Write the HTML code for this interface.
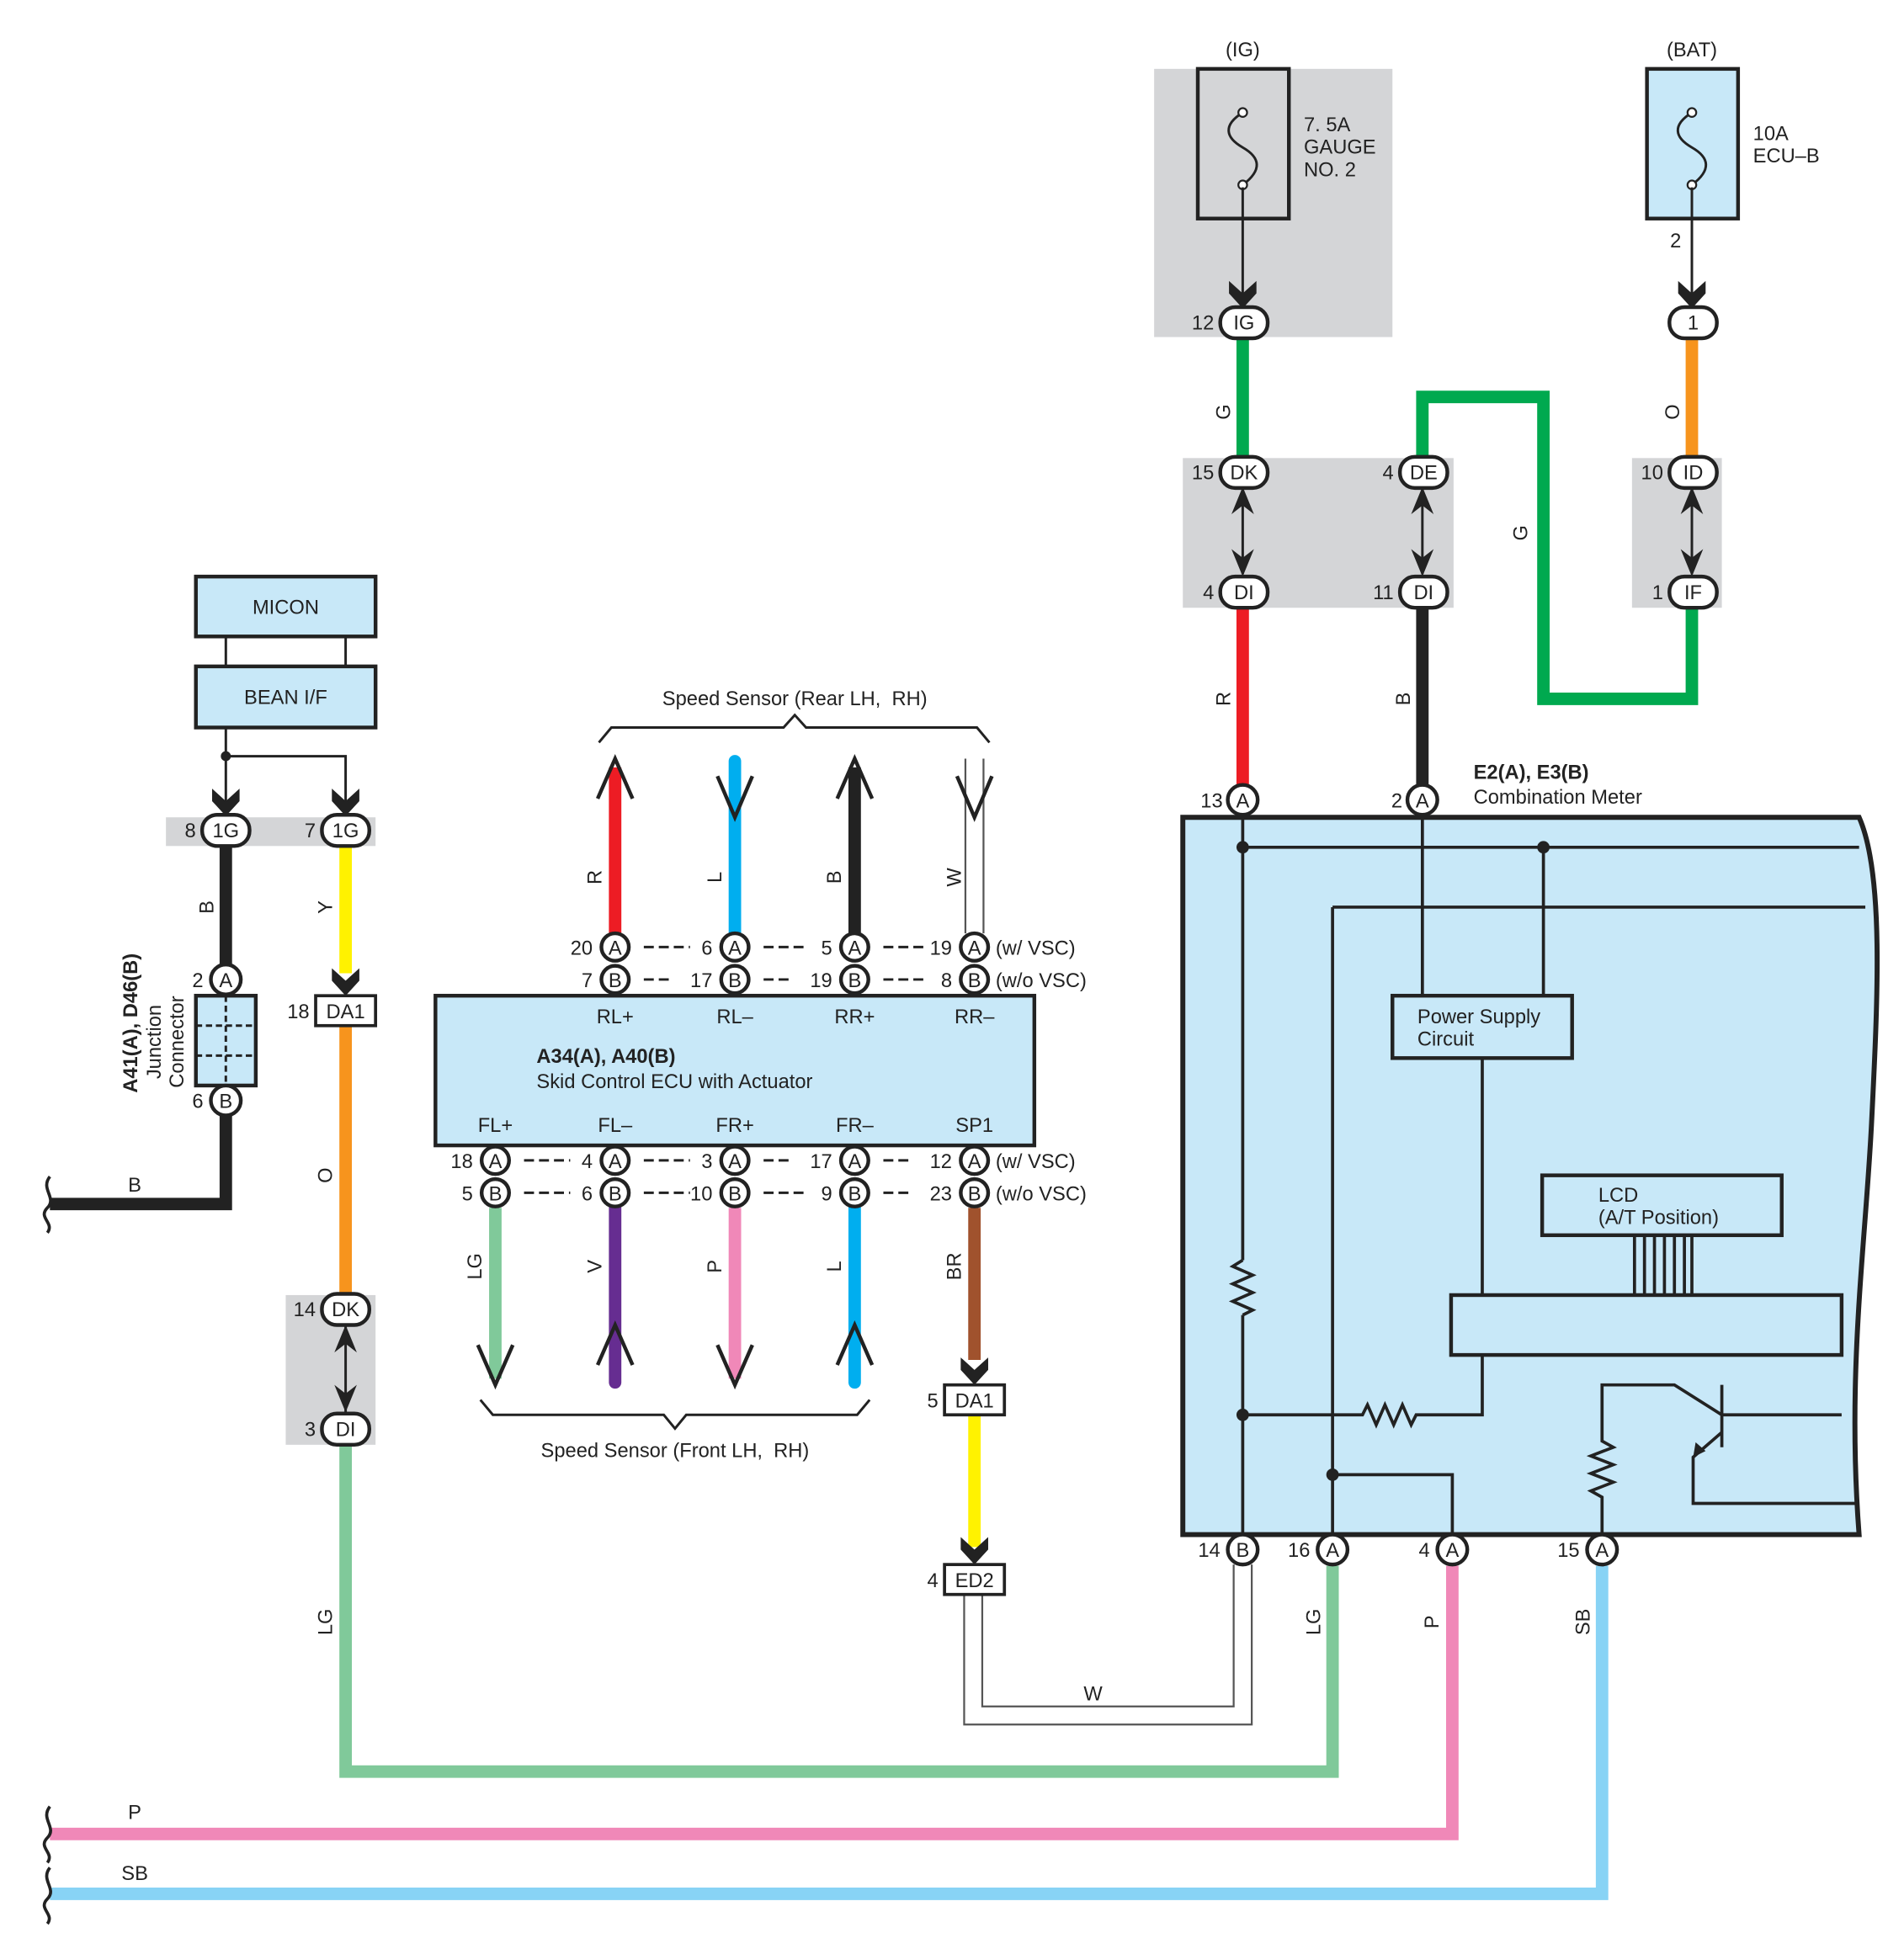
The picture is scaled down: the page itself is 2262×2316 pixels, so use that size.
<!DOCTYPE html>
<html><head><meta charset="utf-8"><style>
html,body{margin:0;padding:0;background:#fff}
svg{display:block}
text{font-family:"Liberation Sans",sans-serif;font-size:16px;fill:#222}
.c{text-anchor:middle}
.e{text-anchor:end}
.b{font-weight:bold}
</style></head><body>
<svg width="2262" height="2316" viewBox="0 0 1526 1562" xmlns="http://www.w3.org/2000/svg">
<defs>
<path id="chv" d="M-11,-22 L0,-12 L11,-22 L11,-12 L0,0 L-11,-12 Z" fill="#222"/>
</defs>
<rect x="925" y="55" width="191" height="215" fill="#d4d5d7"/>
<rect x="948" y="367" width="217" height="120" fill="#d4d5d7"/>
<rect x="1308" y="367" width="72" height="120" fill="#d4d5d7"/>
<rect x="133" y="655" width="168" height="23" fill="#d4d5d7"/>
<rect x="229" y="1038" width="72" height="120" fill="#d4d5d7"/>
<rect x="960" y="55" width="73" height="120" fill="#d4d5d7" stroke="#222" stroke-width="3"/>
<rect x="1320" y="55" width="73" height="120" fill="#c8e8f8" stroke="#222" stroke-width="3"/>
<path d="M996,90 C980,100 982,110 996,118 C1010,126 1012,136 996,148" fill="none" stroke="#222" stroke-width="2"/>
<circle cx="996" cy="90" r="3.5" fill="#fff" stroke="#222" stroke-width="1.5"/><circle cx="996" cy="148" r="3.5" fill="#fff" stroke="#222" stroke-width="1.5"/>
<path d="M1356,90 C1340,100 1342,110 1356,118 C1370,126 1372,136 1356,148" fill="none" stroke="#222" stroke-width="2"/>
<circle cx="1356" cy="90" r="3.5" fill="#fff" stroke="#222" stroke-width="1.5"/><circle cx="1356" cy="148" r="3.5" fill="#fff" stroke="#222" stroke-width="1.5"/>
<text x="996" y="45" class="c">(IG)</text><text x="1356" y="45" class="c">(BAT)</text>
<text x="1045" y="105">7. 5A</text><text x="1045" y="123">GAUGE</text><text x="1045" y="141">NO. 2</text>
<text x="1405" y="112">10A</text><text x="1405" y="130">ECU–B</text>
<line x1="996" y1="150" x2="996" y2="245" stroke="#222" stroke-width="2"/>
<line x1="1356" y1="150" x2="1356" y2="245" stroke="#222" stroke-width="2"/>
<text x="1343" y="198" class="c">2</text>
<use href="#chv" x="996" y="247"/><use href="#chv" x="1356" y="247"/>
<g fill="none" stroke-linejoin="miter">
<path d="M996,270V370" stroke="#00a94f" stroke-width="10"/>
<path d="M1356,270V370" stroke="#f7941d" stroke-width="10"/>
<path d="M1140,367V318H1237V560H1356V487" stroke="#00a94f" stroke-width="10"/>
<path d="M996,487V630" stroke="#ed1c24" stroke-width="10"/>
<path d="M1140,487V630" stroke="#222" stroke-width="10"/>
<path d="M181,678V775" stroke="#222" stroke-width="10"/>
<path d="M277,678V780" stroke="#fff200" stroke-width="10"/>
<path d="M181,894V965H40" stroke="#222" stroke-width="10"/>
<path d="M277,822V1038" stroke="#f7941d" stroke-width="10"/>
<path d="M1068,1255V1420H277V1158" stroke="#80c99a" stroke-width="10"/>
<path d="M1164,1255V1470H40" stroke="#f088b8" stroke-width="10"/>
<path d="M1284,1255V1518H40" stroke="#88d3f5" stroke-width="10"/>
<path d="M996,1254V1375H780V1278" stroke="#555" stroke-width="16"/>
<path d="M996,1254V1375H780V1278" stroke="#fff" stroke-width="13"/>
<path d="M493,748V615" stroke="#ed1c24" stroke-width="10"/>
<path d="M589,748V610" stroke="#00aeef" stroke-width="10" stroke-linecap="round"/>
<path d="M685,748V615" stroke="#222" stroke-width="10"/>
<path d="M781,748V608" stroke="#555" stroke-width="16"/><path d="M781,748V606" stroke="#fff" stroke-width="13"/>
<path d="M397,968V1105" stroke="#80c99a" stroke-width="10"/>
<path d="M493,968V1108" stroke="#662d91" stroke-width="10" stroke-linecap="round"/>
<path d="M589,968V1105" stroke="#f088b8" stroke-width="10"/>
<path d="M685,968V1108" stroke="#00aeef" stroke-width="10" stroke-linecap="round"/>
<path d="M781,968V1090" stroke="#a0522d" stroke-width="10"/>
<path d="M781,1134V1240" stroke="#fff200" stroke-width="10"/>
<g stroke="#222" stroke-width="3">
<path d="M479,640L493,608L507,640"/><path d="M575,622L589,655L603,622"/><path d="M671,640L685,608L699,640"/><path d="M767,622L781,655L795,622"/>
<path d="M383,1078L397,1110L411,1078"/><path d="M479,1094L493,1062L507,1094"/><path d="M575,1078L589,1110L603,1078"/><path d="M671,1094L685,1062L699,1094"/>
</g>
<path d="M480,595L490,583H628L637,573L646,583H783L793,595" stroke="#222" stroke-width="2"/>
<path d="M385,1122L395,1134H532L541,1145L550,1134H687L697,1122" stroke="#222" stroke-width="2"/>
<g stroke="#222" stroke-width="2.5"><path d="M40,943C32,953 46,960 38,968C30,976 44,980 38,988"/>
<path d="M40,1448C32,1458 46,1465 38,1473C30,1481 44,1485 38,1493"/>
<path d="M40,1497C32,1507 46,1514 38,1522C30,1530 44,1534 38,1542"/></g>
</g>
<use href="#chv" x="781" y="1110"/><use href="#chv" x="781" y="1254"/><use href="#chv" x="277" y="798"/>
<text x="876" y="1363" class="c">W</text>
<text x="108" y="955" class="c">B</text><text x="108" y="1458" class="c">P</text><text x="108" y="1507" class="c">SB</text>
<g>
<text transform="translate(986,330) rotate(-90)" class="c">G</text>
<text transform="translate(1346,330) rotate(-90)" class="c">O</text>
<text transform="translate(1224,427) rotate(-90)" class="c">G</text>
<text transform="translate(986,560) rotate(-90)" class="c">R</text>
<text transform="translate(1130,560) rotate(-90)" class="c">B</text>
<text transform="translate(171,727) rotate(-90)" class="c">B</text>
<text transform="translate(266,727) rotate(-90)" class="c">Y</text>
<text transform="translate(266,942) rotate(-90)" class="c">O</text>
<text transform="translate(266,1300) rotate(-90)" class="c">LG</text>
<text transform="translate(1058,1300) rotate(-90)" class="c">LG</text>
<text transform="translate(1153,1300) rotate(-90)" class="c">P</text>
<text transform="translate(1274,1300) rotate(-90)" class="c">SB</text>
<text transform="translate(482,703) rotate(-90)" class="c">R</text>
<text transform="translate(578,703) rotate(-90)" class="c">L</text>
<text transform="translate(674,703) rotate(-90)" class="c">B</text>
<text transform="translate(770,703) rotate(-90)" class="c">W</text>
<text transform="translate(386,1015) rotate(-90)" class="c">LG</text>
<text transform="translate(482,1015) rotate(-90)" class="c">V</text>
<text transform="translate(578,1015) rotate(-90)" class="c">P</text>
<text transform="translate(674,1015) rotate(-90)" class="c">L</text>
<text transform="translate(770,1015) rotate(-90)" class="c">BR</text>
</g>
<text x="637" y="565" class="c">Speed Sensor (Rear LH,&#160; RH)</text>
<text x="541" y="1168" class="c">Speed Sensor (Front LH,&#160; RH)</text>
<g stroke="#222" stroke-width="2">
<line x1="996" y1="392" x2="996" y2="460"/><line x1="1140" y1="392" x2="1140" y2="460"/><line x1="1356" y1="392" x2="1356" y2="460"/><line x1="277" y1="1062" x2="277" y2="1132"/>
</g>
<g fill="#222">
<path d="M987,412L996,390L1005,412L996,405Z"/><path d="M987,440L996,462L1005,440L996,447Z"/>
<path d="M1131,412L1140,390L1149,412L1140,405Z"/><path d="M1131,440L1140,462L1149,440L1140,447Z"/>
<path d="M1347,412L1356,390L1365,412L1356,405Z"/><path d="M1347,440L1356,462L1365,440L1356,447Z"/>
<path d="M268,1084L277,1062L286,1084L277,1077Z"/><path d="M268,1110L277,1132L286,1110L277,1117Z"/>
</g>
<path d="M948,655H1490C1510,700 1505,800 1500,900C1495,1000 1480,1100 1490,1230H948Z" fill="#c8e8f8" stroke="#222" stroke-width="4"/>
<g stroke="#222" stroke-width="2.5" fill="none">
<path d="M996,655V1010M996,1054V1242"/>
<path d="M996,1010l-8,5 16,7 -16,7 16,7 -16,7 16,7 -8,4"/>
<path d="M996,679H1490"/><path d="M1237,679V798"/><path d="M1140,655V798"/>
<path d="M1068,727H1495"/><path d="M1068,727V1242"/>
<path d="M1188,848V1038"/>
<path d="M996,1134H1092l4,-8 7,16 7,-16 7,16 7,-16 7,16 4,-8H1188V1086"/>
<path d="M1068,1182H1164V1242"/>
<path d="M1284,1242V1200l-9,-5 18,-7 -18,-7 18,-7 -18,-7 18,-7 -9,-5V1110H1342L1380,1134M1380,1110V1160M1380,1134H1476M1380,1148L1357,1168V1205H1488"/>
<path d="M1310,990V1038M1318,990V1038M1326,990V1038M1334,990V1038M1342,990V1038M1350,990V1038M1356,990V1038"/>
</g>
<path d="M1357,1168l2,-12 8,7z" fill="#222"/>
<g fill="#222"><circle cx="996" cy="679" r="5"/><circle cx="1237" cy="679" r="5"/><circle cx="996" cy="1134" r="5"/><circle cx="1068" cy="1182" r="5"/></g>
<rect x="1116" y="798" width="144" height="50" fill="#c8e8f8" stroke="#222" stroke-width="3"/>
<text x="1136" y="820">Power Supply</text><text x="1136" y="838">Circuit</text>
<rect x="1236" y="942" width="192" height="48" fill="#c8e8f8" stroke="#222" stroke-width="3"/>
<text x="1281" y="963">LCD</text><text x="1281" y="981">(A/T Position)</text>
<rect x="1163" y="1038" width="313" height="48" fill="#c8e8f8" stroke="#222" stroke-width="3"/>
<text x="1181" y="624" class="b">E2(A), E3(B)</text><text x="1181" y="644">Combination Meter</text>
<rect x="157" y="462" width="144" height="48" fill="#c8e8f8" stroke="#222" stroke-width="3"/>
<rect x="157" y="534" width="144" height="49" fill="#c8e8f8" stroke="#222" stroke-width="3"/>
<text x="229" y="492" class="c">MICON</text><text x="229" y="564" class="c">BEAN I/F</text>
<g stroke="#222" stroke-width="2"><line x1="181" y1="510" x2="181" y2="534"/><line x1="277" y1="510" x2="277" y2="534"/>
<path d="M181,583V645M181,606H277V645" fill="none"/></g>
<circle cx="181" cy="606" r="4" fill="#222"/>
<use href="#chv" x="181" y="654"/><use href="#chv" x="277" y="654"/>
<rect x="157" y="798" width="48" height="72" fill="#c8e8f8" stroke="#222" stroke-width="3"/>
<g stroke="#222" stroke-width="2" stroke-dasharray="5,3"><line x1="157" y1="822" x2="205" y2="822"/><line x1="157" y1="846" x2="205" y2="846"/><line x1="181" y1="798" x2="181" y2="870"/></g>
<text transform="translate(110,820) rotate(-90)" class="c b">A41(A), D46(B)</text>
<text transform="translate(129,835) rotate(-90)" class="c">Junction</text>
<text transform="translate(147,835) rotate(-90)" class="c">Connector</text>
<rect x="349" y="798" width="480" height="120" fill="#c8e8f8" stroke="#222" stroke-width="3"/>
<g><text x="493" y="820" class="c">RL+</text><text x="589" y="820" class="c">RL–</text><text x="685" y="820" class="c">RR+</text><text x="781" y="820" class="c">RR–</text>
<text x="397" y="907" class="c">FL+</text><text x="493" y="907" class="c">FL–</text><text x="589" y="907" class="c">FR+</text><text x="685" y="907" class="c">FR–</text><text x="781" y="907" class="c">SP1</text></g>
<text x="430" y="852" class="b">A34(A), A40(B)</text><text x="430" y="872">Skid Control ECU with Actuator</text>
<g stroke="#222" stroke-width="2" stroke-dasharray="8,4">
<line x1="516" y1="759" x2="553" y2="759"/><line x1="612" y1="759" x2="648" y2="759"/><line x1="708" y1="759" x2="740" y2="759"/>
<line x1="516" y1="785" x2="540" y2="785"/><line x1="612" y1="785" x2="636" y2="785"/><line x1="708" y1="785" x2="744" y2="785"/>
<line x1="420" y1="930" x2="457" y2="930"/><line x1="516" y1="930" x2="553" y2="930"/><line x1="612" y1="930" x2="636" y2="930"/><line x1="708" y1="930" x2="732" y2="930"/>
<line x1="420" y1="956" x2="457" y2="956"/><line x1="516" y1="956" x2="553" y2="956"/><line x1="612" y1="956" x2="648" y2="956"/><line x1="708" y1="956" x2="732" y2="956"/>
</g>
<text x="798" y="765">(w/ VSC)</text><text x="798" y="791">(w/o VSC)</text>
<text x="798" y="936">(w/ VSC)</text><text x="798" y="962">(w/o VSC)</text>
<g fill="#fff" stroke="#222" stroke-width="3">
<circle cx="493" cy="759" r="11"/><circle cx="589" cy="759" r="11"/><circle cx="685" cy="759" r="11"/><circle cx="781" cy="759" r="11"/>
<circle cx="493" cy="785" r="11"/><circle cx="589" cy="785" r="11"/><circle cx="685" cy="785" r="11"/><circle cx="781" cy="785" r="11"/>
<circle cx="397" cy="930" r="11"/><circle cx="493" cy="930" r="11"/><circle cx="589" cy="930" r="11"/><circle cx="685" cy="930" r="11"/><circle cx="781" cy="930" r="11"/>
<circle cx="397" cy="956" r="11"/><circle cx="493" cy="956" r="11"/><circle cx="589" cy="956" r="11"/><circle cx="685" cy="956" r="11"/><circle cx="781" cy="956" r="11"/>
<circle cx="996" cy="641" r="12"/><circle cx="1140" cy="641" r="12"/>
<circle cx="996" cy="1242" r="12"/><circle cx="1068" cy="1242" r="12"/><circle cx="1164" cy="1242" r="12"/><circle cx="1284" cy="1242" r="12"/>
<circle cx="181" cy="785" r="12"/><circle cx="181" cy="882" r="12"/>
<rect x="978" y="246" width="38" height="25" rx="12"/><rect x="1338" y="246" width="38" height="25" rx="12"/>
<rect x="978" y="366" width="38" height="25" rx="12"/><rect x="978" y="462" width="38" height="25" rx="12"/>
<rect x="1122" y="366" width="38" height="25" rx="12"/><rect x="1122" y="462" width="38" height="25" rx="12"/>
<rect x="1338" y="366" width="38" height="25" rx="12"/><rect x="1338" y="462" width="38" height="25" rx="12"/>
<rect x="162" y="653" width="38" height="25" rx="12"/><rect x="258" y="653" width="38" height="25" rx="12"/>
<rect x="258" y="1037" width="38" height="25" rx="12"/><rect x="258" y="1133" width="38" height="25" rx="12"/>
<rect x="253" y="798" width="48" height="24" stroke-width="2.5"/><rect x="757" y="1110" width="48" height="24" stroke-width="2.5"/><rect x="757" y="1254" width="48" height="24" stroke-width="2.5"/>
</g>
<g>
<text x="493" y="765" class="c">A</text><text x="589" y="765" class="c">A</text><text x="685" y="765" class="c">A</text><text x="781" y="765" class="c">A</text>
<text x="493" y="791" class="c">B</text><text x="589" y="791" class="c">B</text><text x="685" y="791" class="c">B</text><text x="781" y="791" class="c">B</text>
<text x="397" y="936" class="c">A</text><text x="493" y="936" class="c">A</text><text x="589" y="936" class="c">A</text><text x="685" y="936" class="c">A</text><text x="781" y="936" class="c">A</text>
<text x="397" y="962" class="c">B</text><text x="493" y="962" class="c">B</text><text x="589" y="962" class="c">B</text><text x="685" y="962" class="c">B</text><text x="781" y="962" class="c">B</text>
<text x="996" y="647" class="c">A</text><text x="1140" y="647" class="c">A</text>
<text x="996" y="1248" class="c">B</text><text x="1068" y="1248" class="c">A</text><text x="1164" y="1248" class="c">A</text><text x="1284" y="1248" class="c">A</text>
<text x="181" y="791" class="c">A</text><text x="181" y="888" class="c">B</text>
<text x="997" y="264" class="c">IG</text><text x="1357" y="264" class="c">1</text>
<text x="997" y="384" class="c">DK</text><text x="997" y="480" class="c">DI</text>
<text x="1141" y="384" class="c">DE</text><text x="1141" y="480" class="c">DI</text>
<text x="1357" y="384" class="c">ID</text><text x="1357" y="480" class="c">IF</text>
<text x="181" y="671" class="c">1G</text><text x="277" y="671" class="c">1G</text>
<text x="277" y="1055" class="c">DK</text><text x="277" y="1151" class="c">DI</text>
<text x="277" y="816" class="c">DA1</text><text x="781" y="1128" class="c">DA1</text><text x="781" y="1272" class="c">ED2</text>
</g>
<g>
<text x="973" y="264" class="e">12</text><text x="973" y="384" class="e">15</text><text x="973" y="480" class="e">4</text>
<text x="1117" y="384" class="e">4</text><text x="1117" y="480" class="e">11</text>
<text x="1333" y="384" class="e">10</text><text x="1333" y="480" class="e">1</text>
<text x="980" y="647" class="e">13</text><text x="1124" y="647" class="e">2</text>
<text x="978" y="1248" class="e">14</text><text x="1050" y="1248" class="e">16</text><text x="1146" y="1248" class="e">4</text><text x="1266" y="1248" class="e">15</text>
<text x="157" y="671" class="e">8</text><text x="253" y="671" class="e">7</text>
<text x="163" y="791" class="e">2</text><text x="163" y="888" class="e">6</text>
<text x="248" y="816" class="e">18</text><text x="253" y="1055" class="e">14</text><text x="253" y="1151" class="e">3</text>
<text x="752" y="1128" class="e">5</text><text x="752" y="1272" class="e">4</text>
<text x="475" y="765" class="e">20</text><text x="571" y="765" class="e">6</text><text x="667" y="765" class="e">5</text><text x="763" y="765" class="e">19</text>
<text x="475" y="791" class="e">7</text><text x="571" y="791" class="e">17</text><text x="667" y="791" class="e">19</text><text x="763" y="791" class="e">8</text>
<text x="379" y="936" class="e">18</text><text x="475" y="936" class="e">4</text><text x="571" y="936" class="e">3</text><text x="667" y="936" class="e">17</text><text x="763" y="936" class="e">12</text>
<text x="379" y="962" class="e">5</text><text x="475" y="962" class="e">6</text><text x="571" y="962" class="e">10</text><text x="667" y="962" class="e">9</text><text x="763" y="962" class="e">23</text>
</g>
</svg>
</body></html>
